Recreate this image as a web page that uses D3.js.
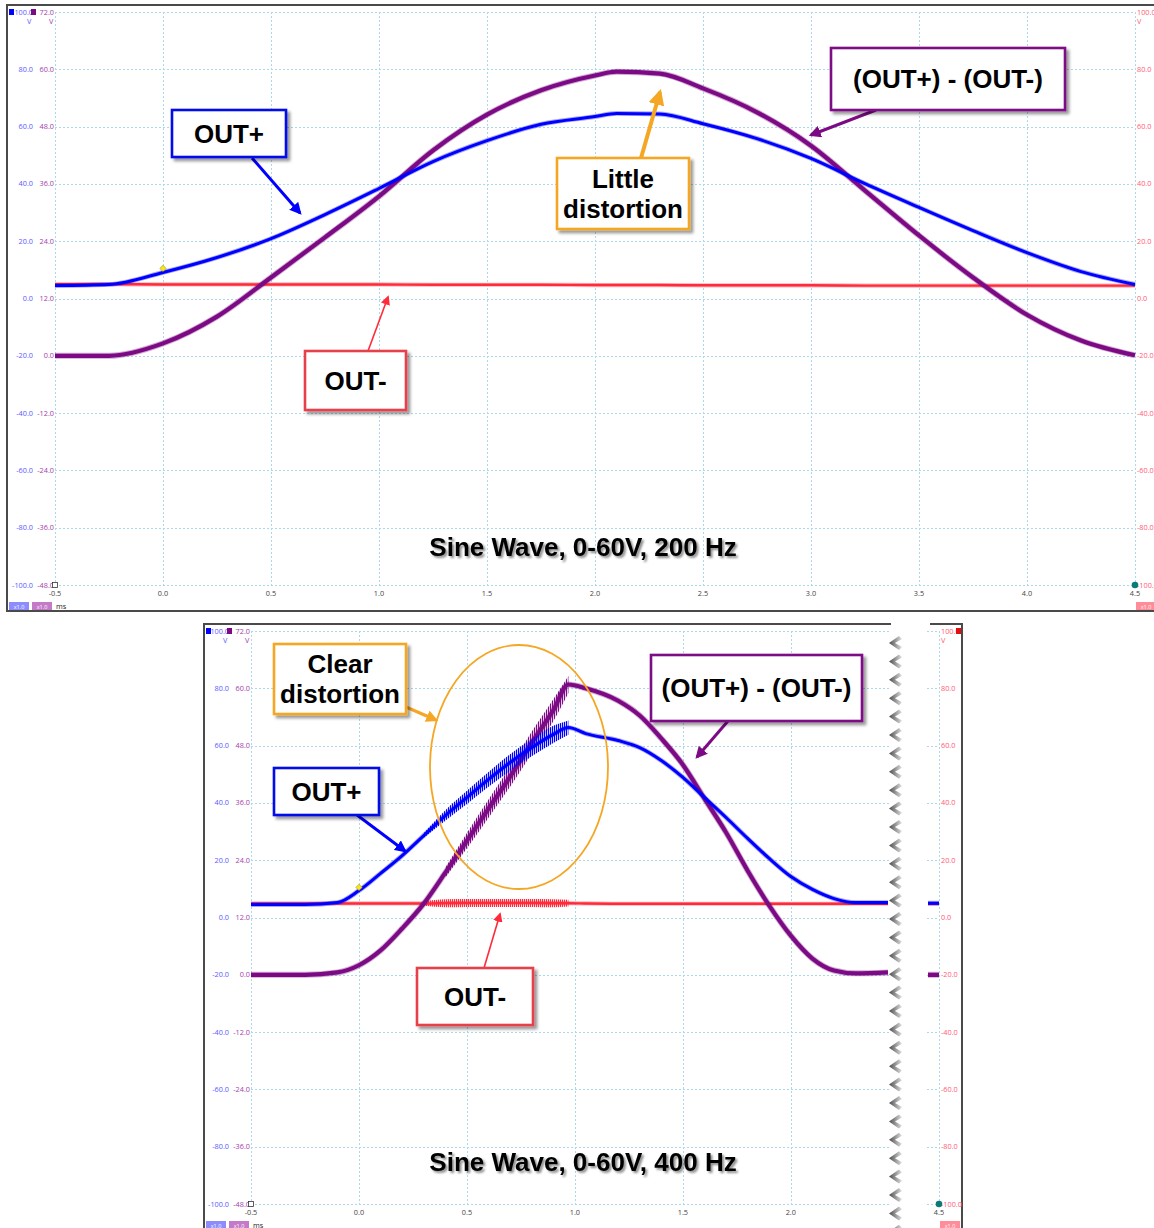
<!DOCTYPE html>
<html>
<head>
<meta charset="utf-8">
<script src="https://cdn.jsdelivr.net/npm/d3@7"></script>
<style>
  body { margin: 0; background: #fff; }
  svg { display: block; }
  .tick { font-family: "Open Sans", "DejaVu Sans", sans-serif; font-size: 7.3px; }
  .note { font-family: "Liberation Sans", Arial, sans-serif; font-weight: bold; font-size: 26px; fill: #000; }
</style>
</head>
<body>
<svg id="chart" width="1154" height="1228"></svg>
<script>
const blueTicks = d3.range(-100, 101, 20);     // OUT+ channel, V
const purpleTicks = d3.range(-48, 73, 12);     // (OUT+) - (OUT-) channel, V
const redTicks = d3.range(-100, 101, 20);      // OUT- channel, V

// 200 Hz capture
const topTimes = [-0.5, -0.25, 0, 0.25, 0.5, 0.75, 1, 1.25, 1.5, 1.75, 2, 2.1, 2.3, 2.5, 2.75, 3, 3.25, 3.5, 3.75, 4, 4.25, 4.5];
const topOutPlus = [4.5, 4.9, 9.1, 14.3, 20.9, 29.3, 38.4, 47.8, 55.1, 60.8, 63.5, 64.6, 64.4, 61.0, 55.8, 48.9, 40.1, 31.8, 23.7, 16.0, 9.4, 4.9];
const topDiff = [0, 0, 2.6, 8.2, 16.4, 24.8, 33.4, 43.0, 50.5, 55.6, 58.7, 59.5, 59.1, 56.0, 51.0, 44.0, 34.6, 25.2, 16.4, 8.6, 3.2, 0.1];
const topOutMinus = [5.0, 5.0, 4.9, 4.9, 4.9, 4.9, 4.9, 4.8, 4.8, 4.8, 4.7, 4.7, 4.7, 4.6, 4.6, 4.6, 4.5, 4.5, 4.5, 4.5, 4.5, 4.5];
const topXTicks = d3.range(-0.5, 4.51, 0.5);

// 400 Hz capture (time axis cut after 2.45 ms, last sliver at 4.5 ms)
const botTimes = [-0.5, -0.25, -0.1, 0, 0.1, 0.2, 0.3, 0.4, 0.5, 0.6, 0.7, 0.8, 0.9, 0.97, 1.05, 1.2, 1.3, 1.4, 1.5, 1.6, 1.7, 1.8, 1.9, 2.0, 2.1, 2.2, 2.3, 2.45];
const botOutPlus = [4.5, 4.5, 5.2, 9.4, 15.4, 21.6, 28.6, 35.6, 41.9, 48.2, 54.1, 59.3, 63.9, 66.3, 64.2, 61.8, 59.3, 54.8, 48.9, 41.9, 34.9, 27.6, 20.6, 14.3, 9.8, 6.6, 5.2, 5.2];
const botDiff = [0, 0, 0.5, 2.0, 5.1, 9.7, 14.9, 21.4, 28.1, 34.8, 41.5, 48.6, 55.4, 60.8, 60.0, 57.4, 54.3, 49.5, 44.0, 36.9, 29.8, 21.8, 14.5, 8.2, 3.4, 0.9, 0.3, 0.5];
const botOutMinus = [4.9, 4.9, 4.9, 4.9, 4.9, 4.9, 4.9, 5.0, 5.1, 5.1, 5.1, 5.1, 5.0, 5.0, 4.9, 4.8, 4.8, 4.8, 4.8, 4.8, 4.8, 4.8, 4.8, 4.8, 4.8, 4.8, 4.8, 4.8];
// ripple half-height (V) of the oscillation bursts
const botOutPlusRipple = [0, 0, 0, 0, 0, 0, 0.8, 1.8, 2.3, 2.6, 2.9, 3.0, 3.0, 2.5, 0, 0, 0, 0, 0, 0, 0, 0, 0, 0, 0, 0, 0, 0];
const botDiffRipple = [0, 0, 0, 0, 0, 0, 0, 1.0, 1.6, 1.9, 2.1, 2.3, 2.3, 1.8, 0, 0, 0, 0, 0, 0, 0, 0, 0, 0, 0, 0, 0, 0];
const botOutMinusRipple = [0, 0, 0, 0, 0, 0, 0.8, 1.4, 1.4, 1.4, 1.4, 1.4, 1.4, 1.2, 0, 0, 0, 0, 0, 0, 0, 0, 0, 0, 0, 0, 0, 0];
const tailTimes = [4.45, 4.5];
const tailOutPlus = [5.0, 5.0];
const tailDiff = [0, 0];
const tailOutMinus = [4.8, 4.8];
const botXTicks = [-0.5, 0, 0.5, 1, 1.5, 2, 4.5];

const BLUE = "#0000ff", PURPLE = "#7d0a85", RED = "#ff2b3a", ORANGE = "#f5a623";
const fmt = d3.formatLocale({ decimal: ".", thousands: ",", grouping: [3], currency: ["", ""], minus: "-" }).format(".1f");

const svg = d3.select("#chart");
svg.append("rect").attr("width", 1154).attr("height", 1228).attr("fill", "#fff");
const defs = svg.append("defs");

const sh = defs.append("filter").attr("id", "shadow").attr("x", "-20%").attr("y", "-20%").attr("width", "150%").attr("height", "160%");
sh.append("feDropShadow").attr("dx", 3).attr("dy", 3).attr("stdDeviation", 1.5).attr("flood-color", "#000").attr("flood-opacity", 0.4);
const ts = defs.append("filter").attr("id", "tshadow").attr("x", "-10%").attr("y", "-30%").attr("width", "130%").attr("height", "170%");
ts.append("feDropShadow").attr("dx", 2).attr("dy", 2).attr("stdDeviation", 1.2).attr("flood-color", "#000").attr("flood-opacity", 0.45);

// arrow heads
[["blue", BLUE], ["purple", PURPLE], ["red", RED], ["orange", ORANGE]].forEach(([k, c]) => {
  defs.append("marker").attr("id", "head-" + k)
    .attr("viewBox", "0 0 10 10").attr("refX", 8).attr("refY", 5)
    .attr("markerWidth", k === "red" ? 6 : 4).attr("markerHeight", k === "red" ? 6 : 4)
    .attr("orient", "auto")
    .append("path").attr("d", "M0,0 L10,5 L0,10 Z").attr("fill", c);
  // vertical hatch used for the ripple bursts
  const p = defs.append("pattern").attr("id", "hatch-" + k)
    .attr("patternUnits", "userSpaceOnUse").attr("width", 2).attr("height", 20);
  p.append("rect").attr("width", 1.2).attr("height", 20).attr("fill", c);
});

const tornGrad = defs.append("linearGradient").attr("id", "torn").attr("x1", 0).attr("x2", 1).attr("y1", 0).attr("y2", 0);
tornGrad.append("stop").attr("offset", 0).attr("stop-color", "#4a4a4a");
tornGrad.append("stop").attr("offset", 1).attr("stop-color", "#e2e2e2");

/**
 * Draw one oscilloscope capture panel
 */
function drawPanel(p) {
  const g = svg.append("g");
  const yB = d3.scaleLinear([-100, 100], [p.oy + 580, p.oy + 7]);
  const yP = d3.scaleLinear([-48, 72], [p.oy + 580, p.oy + 7]);
  const yR = yB;
  const x = p.x;
  const left = x(-0.5), right = x(4.5);

  // clip for plot segments
  const clipId = "clip-" + p.id;
  const cp = defs.append("clipPath").attr("id", clipId);
  p.segments.forEach(([a, b]) => cp.append("rect").attr("x", a).attr("y", p.oy + 2).attr("width", b - a).attr("height", 590));

  // frame
  if (p.torn) {
    const fr = g.append("g").attr("stroke", "#4a4a4a").attr("stroke-width", 2).attr("fill", "none");
    fr.append("path").attr("d", `M${p.ox},1228 V${p.oy} H${p.segments[0][1] + 2}`);
    fr.append("path").attr("d", `M${p.segments[1][0] + 4},${p.oy} H${p.frameRight} V1228`);
  } else {
    g.append("rect").attr("x", p.ox).attr("y", p.oy).attr("width", 1200).attr("height", 606)
      .attr("fill", "none").attr("stroke", "#4a4a4a").attr("stroke-width", 2);
  }

  // grid
  const grid = g.append("g").attr("clip-path", `url(#${clipId})`)
    .attr("stroke", "#a9d9ea").attr("stroke-width", 1).attr("stroke-dasharray", "2,2");
  grid.selectAll("line.h").data(blueTicks).join("line").attr("class", "h")
    .attr("x1", left).attr("x2", right).attr("y1", d => Math.round(yB(d)) + 0.5).attr("y2", d => Math.round(yB(d)) + 0.5);
  grid.selectAll("line.v").data(p.xTicks).join("line").attr("class", "v")
    .attr("x1", d => Math.round(x(d)) + 0.5).attr("x2", d => Math.round(x(d)) + 0.5)
    .attr("y1", yB(100)).attr("y2", yB(-100));

  // axis labels
  const lab = g.append("g").attr("class", "tick");
  lab.selectAll("text.b").data(blueTicks).join("text").attr("class", "b")
    .attr("x", left - 22).attr("y", d => yB(d)).attr("dy", "0.35em").attr("text-anchor", "end")
    .attr("fill", "#5a5aff").text(d => fmt(d));
  lab.selectAll("text.p").data(purpleTicks).join("text").attr("class", "p")
    .attr("x", left - 1).attr("y", d => yP(d)).attr("dy", "0.35em").attr("text-anchor", "end")
    .attr("fill", "#a43ea8").text(d => fmt(d));
  lab.selectAll("text.r").data(redTicks).join("text").attr("class", "r")
    .attr("x", right + 2).attr("y", d => yR(d)).attr("dy", "0.35em")
    .attr("fill", "#ff5a78").text(d => fmt(d));
  lab.selectAll("text.x").data(p.xTicks).join("text").attr("class", "x")
    .attr("x", d => x(d)).attr("y", yB(-100) + 11).attr("text-anchor", "middle")
    .attr("fill", "#444").text(d => fmt(d));
  lab.append("text").attr("x", left - 28).attr("y", yB(100) + 12).attr("fill", "#5a5aff").text("V");
  lab.append("text").attr("x", left - 6).attr("y", yB(100) + 12).attr("fill", "#a43ea8").text("V");
  lab.append("text").attr("x", right + 2).attr("y", yB(100) + 12).attr("fill", "#ff5a78").text("V");

  // channel squares and markers
  g.append("rect").attr("x", p.ox + 2).attr("y", yB(100) - 3).attr("width", 5).attr("height", 6).attr("fill", BLUE);
  g.append("rect").attr("x", left - 24).attr("y", yB(100) - 3).attr("width", 5).attr("height", 6).attr("fill", PURPLE);
  if (p.torn) g.append("rect").attr("x", p.frameRight - 6).attr("y", yB(100) - 3).attr("width", 5).attr("height", 6).attr("fill", "#e01010");
  g.append("rect").attr("x", left - 2.5).attr("y", yB(-100) - 2.5).attr("width", 5).attr("height", 5)
    .attr("fill", "#fff").attr("stroke", "#333").attr("stroke-width", 0.8);
  g.append("circle").attr("cx", right).attr("cy", yB(-100)).attr("r", 3.3).attr("fill", "#0b7b77");

  // scale badges
  const bdg = g.append("g").attr("class", "tick");
  [[p.ox + 2, "#8c8cff"], [p.ox + 25, "#c47ac8"], [right + 1, "#ff8c98"]].forEach(([bx, c]) => {
    bdg.append("rect").attr("x", bx).attr("y", yB(-100) + 17).attr("width", 20).attr("height", 8).attr("fill", c);
    bdg.append("text").attr("x", bx + 10).attr("y", yB(-100) + 23.5).attr("text-anchor", "middle")
      .attr("fill", "#fff").style("font-size", "5.5px").text("x1.0");
  });
  bdg.append("text").attr("x", p.ox + 49).attr("y", yB(-100) + 24).attr("fill", "#222").text("ms");

  // traces
  const plot = g.append("g").attr("clip-path", `url(#${clipId})`);
  p.series.forEach(s => {
    const ys = s.axis === "purple" ? yP : (s.axis === "red" ? yR : yB);
    const pts = s.t.map((t, i) => ({ t, v: s.v[i], a: s.ripple ? s.ripple[i] : 0 }));
    const line = d3.line().x(d => x(d.t)).y(d => ys(d.v)).curve(d3.curveMonotoneX);
    // soft fuzz round the trace
    plot.append("path").attr("d", line(pts)).attr("fill", "none").attr("stroke", s.color)
      .attr("stroke-opacity", 0.35).attr("stroke-width", s.width + 1.8).attr("stroke-linejoin", "round");
    plot.append("path").attr("d", line(pts)).attr("fill", "none").attr("stroke", s.color)
      .attr("stroke-width", s.width).attr("stroke-linejoin", "round");
    if (s.ripple) {
      const area = d3.area().defined(d => d.a > 0).x(d => x(d.t))
        .y0(d => ys(d.v - d.a)).y1(d => ys(d.v + d.a)).curve(d3.curveMonotoneX);
      plot.append("path").attr("d", area(pts)).attr("fill", `url(#hatch-${s.key})`);
    }
  });

  // trigger marker
  g.append("path").attr("transform", `translate(${x(0)},${yB(p.trigger)})`)
    .attr("d", d3.symbol(d3.symbolDiamond2, 26)()).attr("fill", "#f6e51a").attr("stroke", "#a89a00").attr("stroke-width", 0.6);

  // torn edge
  if (p.torn) {
    const tx = p.segments[0][1];
    const rows = d3.range(p.oy + 12, 1228, 18.4);
    g.selectAll("path.torn").data(rows).join("path").attr("class", "torn")
      .attr("d", y => `M${tx + 10},${y} L${tx},${y + 7} L${tx + 10},${y + 14} L${tx + 13},${y + 11} L${tx + 6},${y + 7} L${tx + 13},${y + 3} Z`)
      .attr("fill", "url(#torn)");
  }

  // title
  g.append("text").attr("class", "note").attr("x", 583).attr("y", p.titleY).attr("text-anchor", "middle")
    .attr("filter", "url(#tshadow)").text(p.title);

  // annotation ellipse
  if (p.ellipse) {
    g.append("ellipse").attr("cx", p.ellipse.cx).attr("cy", p.ellipse.cy).attr("rx", p.ellipse.rx).attr("ry", p.ellipse.ry)
      .attr("fill", "none").attr("stroke", ORANGE).attr("stroke-width", 1.8);
  }

  // arrows
  p.arrows.forEach(a => {
    g.append("line").attr("x1", a.x1).attr("y1", a.y1).attr("x2", a.x2).attr("y2", a.y2)
      .attr("stroke", a.color).attr("stroke-width", a.w).attr("marker-end", `url(#head-${a.key})`);
  });

  // callout boxes
  p.boxes.forEach(b => {
    g.append("rect").attr("x", b.x).attr("y", b.y).attr("width", b.w).attr("height", b.h)
      .attr("fill", "#fff").attr("stroke", b.color).attr("stroke-width", 2.6).attr("filter", "url(#shadow)");
    const n = b.lines.length;
    b.lines.forEach((l, i) => {
      g.append("text").attr("class", "note").attr("x", b.x + b.w / 2)
        .attr("y", b.y + b.h / 2 + (i - (n - 1) / 2) * 30).attr("dy", "0.36em")
        .attr("text-anchor", "middle").text(l);
    });
  });
}

drawPanel({
  id: "top", ox: 7, oy: 5, torn: false,
  x: d3.scaleLinear([-0.5, 4.5], [55, 1135]),
  xTicks: topXTicks,
  segments: [[54, 1137]],
  trigger: 10.5,
  series: [
    { t: topTimes, v: topOutMinus, axis: "red", color: RED, width: 2.4, key: "red" },
    { t: topTimes, v: topDiff, axis: "purple", color: PURPLE, width: 4.2, key: "purple" },
    { t: topTimes, v: topOutPlus, axis: "blue", color: BLUE, width: 3, key: "blue" }
  ],
  title: "Sine Wave, 0-60V, 200 Hz", titleY: 556,
  arrows: [
    { x1: 252, y1: 158, x2: 300, y2: 213, color: BLUE, w: 3, key: "blue" },
    { x1: 876, y1: 110, x2: 811, y2: 135, color: PURPLE, w: 3, key: "purple" },
    { x1: 641, y1: 158, x2: 660, y2: 92, color: ORANGE, w: 4, key: "orange" },
    { x1: 368, y1: 351, x2: 388, y2: 297, color: RED, w: 1.6, key: "red" }
  ],
  boxes: [
    { lines: ["OUT+"], x: 172, y: 110, w: 114, h: 47, color: "#0010e8" },
    { lines: ["(OUT+) - (OUT-)"], x: 831, y: 48, w: 234, h: 62, color: PURPLE },
    { lines: ["Little", "distortion"], x: 557, y: 158, w: 132, h: 71, color: ORANGE },
    { lines: ["OUT-"], x: 305, y: 351, w: 101, h: 59, color: "#e8414b" }
  ]
});

drawPanel({
  id: "bot", ox: 204, oy: 624, torn: true, frameRight: 962,
  x: d3.scaleLinear([-0.5, 2.45, 4.45, 4.5], [251, 888, 928, 939]),
  xTicks: botXTicks,
  segments: [[250, 889], [926, 961]],
  trigger: 10.5,
  series: [
    { t: botTimes, v: botOutMinus, ripple: botOutMinusRipple, axis: "red", color: RED, width: 2.4, key: "red" },
    { t: botTimes, v: botDiff, ripple: botDiffRipple, axis: "purple", color: PURPLE, width: 4.2, key: "purple" },
    { t: botTimes, v: botOutPlus, ripple: botOutPlusRipple, axis: "blue", color: BLUE, width: 3, key: "blue" },
    { t: tailTimes, v: tailOutMinus, axis: "red", color: RED, width: 2.4, key: "red" },
    { t: tailTimes, v: tailDiff, axis: "purple", color: PURPLE, width: 4.2, key: "purple" },
    { t: tailTimes, v: tailOutPlus, axis: "blue", color: BLUE, width: 3, key: "blue" }
  ],
  title: "Sine Wave, 0-60V, 400 Hz", titleY: 1171,
  ellipse: { cx: 519, cy: 767, rx: 89, ry: 122 },
  arrows: [
    { x1: 357, y1: 815, x2: 405, y2: 851, color: BLUE, w: 3, key: "blue" },
    { x1: 728, y1: 721, x2: 697, y2: 757, color: PURPLE, w: 3, key: "purple" },
    { x1: 406, y1: 707, x2: 436, y2: 720, color: ORANGE, w: 3, key: "orange" },
    { x1: 484, y1: 968, x2: 500, y2: 914, color: RED, w: 1.6, key: "red" }
  ],
  boxes: [
    { lines: ["Clear", "distortion"], x: 274, y: 644, w: 132, h: 70, color: ORANGE },
    { lines: ["(OUT+) - (OUT-)"], x: 651, y: 655, w: 211, h: 66, color: PURPLE },
    { lines: ["OUT+"], x: 274, y: 768, w: 105, h: 47, color: "#0010e8" },
    { lines: ["OUT-"], x: 417, y: 968, w: 116, h: 57, color: "#e8414b" }
  ]
});
</script>
</body>
</html>
